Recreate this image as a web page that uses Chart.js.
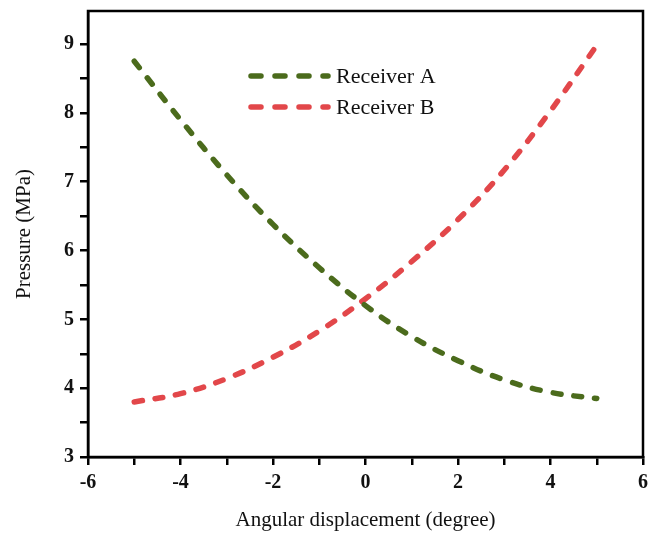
<!DOCTYPE html>
<html>
<head>
<meta charset="utf-8">
<script src="https://cdn.jsdelivr.net/npm/chart.js@4.4.1/dist/chart.umd.min.js"></script>
<style>
  html, body { margin: 0; padding: 0; background: #fff; }
  #wrap { width: 649px; height: 537px; position: relative; }
</style>
</head>
<body>
<div id="wrap"><canvas id="pressureChart"></canvas></div>
<script>
const angles = [-5, -4, -3, -2, -1, 0, 1, 2, 3, 4, 5];
const receiverA = [8.75, 7.9, 7.1, 6.38, 5.75, 5.2, 4.75, 4.4, 4.12, 3.94, 3.85];
const receiverB = [3.8, 3.92, 4.14, 4.45, 4.83, 5.3, 5.84, 6.45, 7.17, 8.03, 8.98];
const xTicks = [-6, -4, -2, 0, 2, 4, 6];
const yTicks = [3, 4, 5, 6, 7, 8, 9];

const green = '#4b6b1c';
const red = '#e2474a';

// frame + in-plot legend
const framePlugin = {
  id: 'frame',
  afterDraw(chart) {
    const { ctx, chartArea: a } = chart;
    ctx.save();
    ctx.strokeStyle = '#000';
    ctx.lineWidth = 2.5;
    ctx.strokeRect(a.left, a.top, a.right - a.left, a.bottom - a.top);

    const x0 = 248, y0 = 76, gap = 31;
    chart.data.datasets.forEach((ds, i) => {
      const y = y0 + i * gap;
      ctx.strokeStyle = ds.borderColor;
      ctx.lineWidth = 5.5;
      ctx.lineCap = 'round';
      ctx.setLineDash([10, 14]);
      ctx.beginPath();
      ctx.moveTo(x0 + 3, y);
      ctx.lineTo(x0 + 80, y);
      ctx.stroke();
      ctx.setLineDash([]);
      ctx.fillStyle = '#111';
      ctx.font = '22px "Liberation Serif", serif';
      ctx.textBaseline = 'middle';
      ctx.fillText(ds.label, x0 + 88, y + 1);
    });
    ctx.restore();
  }
};

const ctx = document.getElementById('pressureChart').getContext('2d');

const myChart = new Chart(ctx, {
  type: 'line',
  data: {
    datasets: [{
      label: 'Receiver A',
      data: angles.map((a, i) => ({ x: a, y: receiverA[i] })),
      borderColor: green,
      borderWidth: 5.5,
      borderDash: [8, 13],
      borderCapStyle: 'round',
      pointRadius: 0,
      tension: 0.4,
      fill: false
    }, {
      label: 'Receiver B',
      data: angles.map((a, i) => ({ x: a, y: receiverB[i] })),
      borderColor: red,
      borderWidth: 5.5,
      borderDash: [8, 13],
      borderCapStyle: 'round',
      pointRadius: 0,
      tension: 0.4,
      fill: false
    }]
  },
  options: {
    responsive: true,
    maintainAspectRatio: false,
    animation: false,
    layout: { padding: { top: 11, right: 6, left: 0, bottom: 0 } },
    plugins: {
      legend: { display: false },
      tooltip: { enabled: false }
    },
    scales: {
      x: {
        type: 'linear',
        min: -6,
        max: 6,
        afterFit(scale) {
          scale.height = 80;
          scale.paddingLeft = 0;
          scale.paddingRight = 0;
        },
        afterBuildTicks(scale) {
          scale.ticks = [];
          for (let v = -6; v <= 6; v++) scale.ticks.push({ value: v });
        },
        border: { display: true, color: '#000', width: 2.5 },
        grid: { drawOnChartArea: false, drawTicks: true, tickLength: 8, color: '#000', lineWidth: 2.5 },
        ticks: {
          color: '#111',
          padding: 6,
          maxRotation: 0,
          autoSkip: false,
          font: { family: '"Liberation Serif", serif', size: 20, weight: 'bold' },
          callback: (v) => xTicks.includes(v) ? String(v) : ''
        },
        title: {
          display: true,
          text: 'Angular displacement (degree)',
          color: '#111',
          padding: { top: 6 },
          font: { family: '"Liberation Serif", serif', size: 21 }
        }
      },
      y: {
        min: 3,
        max: 9.48,
        afterFit(scale) {
          scale.width = 88;
          scale.paddingTop = 0;
          scale.paddingBottom = 0;
        },
        afterBuildTicks(scale) {
          scale.ticks = [];
          for (let v = 3; v <= 9; v += 0.5) scale.ticks.push({ value: v });
        },
        border: { display: true, color: '#000', width: 2.5 },
        grid: { drawOnChartArea: false, drawTicks: true, tickLength: 8, color: '#000', lineWidth: 2.5 },
        ticks: {
          color: '#111',
          padding: 6,
          autoSkip: false,
          font: { family: '"Liberation Serif", serif', size: 20, weight: 'bold' },
          callback: (v) => yTicks.includes(v) ? String(v) : ''
        },
        title: {
          display: true,
          text: 'Pressure (MPa)',
          color: '#111',
          padding: { top: 12, bottom: 20 },
          font: { family: '"Liberation Serif", serif', size: 21 }
        }
      }
    }
  },
  plugins: [framePlugin]
});
</script>
</body>
</html>
